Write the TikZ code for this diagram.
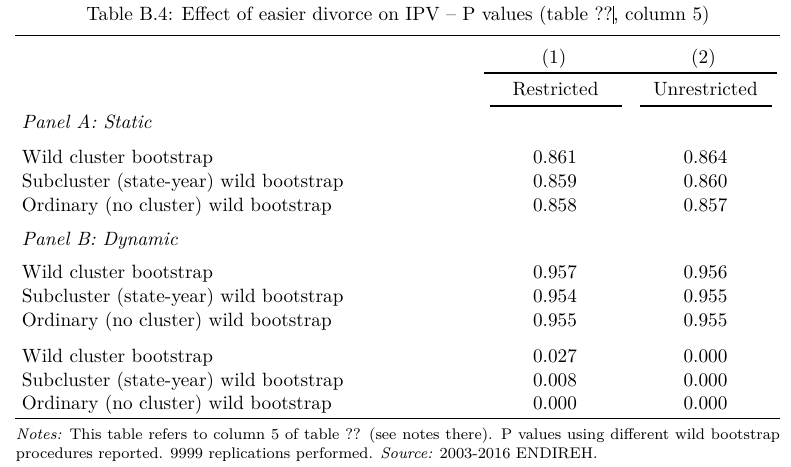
\documentclass[tikz,border=0pt]{standalone}
\begin{document}
\begin{tikzpicture}[x=0.52pt,y=-0.52pt,
  txt/.style={inner sep=0pt,outer sep=0pt,font=\fontsize{10}{12}\selectfont},
  lbl/.style={txt,anchor=base west},
  num/.style={txt,anchor=base},
  heavy/.style={line width=0.8pt},
  light/.style={line width=0.55pt}]
\useasboundingbox (0,0) rectangle (791,467);
% title
\node[num] (title) at (398,20.7) {Table B.4: Effect of easier divorce on IPV -- P values (table ??\rule[-1.7pt]{0.35pt}{9.3pt}, column 5)};
% rules
\coordinate (t1) at (15,35.5); \coordinate (t2) at (780,35.5);
\draw[heavy] (t1) -- (t2);
\node[num] (h1) at (554,63.3) {(1)};
\node[num] (h2) at (703.5,63.3) {(2)};
\coordinate (m1) at (484,73); \coordinate (m2) at (777,73);
\draw[light] (m1) -- (m2);
\node[num] (r1) at (555.5,96) {Restricted};
\node[num] (r2) at (705.5,96) {Unrestricted};
\coordinate (n1) at (490,106); \coordinate (n2) at (622,106);
\coordinate (n3) at (640,106); \coordinate (n4) at (772,106);
\draw[light] (n1) -- (n2);
\draw[light] (n3) -- (n4);
% Panel A
\node[lbl] (pa) at (22,128.3) {\itshape Panel A: Static};
\node[lbl] (a1) at (22,163.3) {Wild cluster bootstrap};
\node[lbl] (a2) at (22,187.3) {Subcluster (state-year) wild bootstrap};
\node[lbl] (a3) at (22,211.7) {Ordinary (no cluster) wild bootstrap};
\node[num] (a1c1) at (555,163.3) {0.861}; \node[num] (a1c2) at (705.5,163.3) {0.864};
\node[num] (a2c1) at (555,187.3) {0.859}; \node[num] (a2c2) at (705.5,187.3) {0.860};
\node[num] (a3c1) at (555,211.7) {0.858}; \node[num] (a3c2) at (705.5,211.7) {0.857};
% Panel B
\node[lbl] (pb) at (22,245.7) {\itshape Panel B: Dynamic};
\node[lbl] (b1) at (22,278.3) {Wild cluster bootstrap};
\node[lbl] (b2) at (22,302.3) {Subcluster (state-year) wild bootstrap};
\node[lbl] (b3) at (22,326.7) {Ordinary (no cluster) wild bootstrap};
\node[num] (b1c1) at (555,278.3) {0.957}; \node[num] (b1c2) at (705.5,278.3) {0.956};
\node[num] (b2c1) at (555,302.3) {0.954}; \node[num] (b2c2) at (705.5,302.3) {0.955};
\node[num] (b3c1) at (555,326.7) {0.955}; \node[num] (b3c2) at (705.5,326.7) {0.955};
% third block
\node[lbl] (d1) at (22,362.3) {Wild cluster bootstrap};
\node[lbl] (d2) at (22,386.7) {Subcluster (state-year) wild bootstrap};
\node[lbl] (d3) at (22,410) {Ordinary (no cluster) wild bootstrap};
\node[num] (d1c1) at (555,362.3) {0.027}; \node[num] (d1c2) at (705.5,362.3) {0.000};
\node[num] (d2c1) at (555,386.7) {0.008}; \node[num] (d2c2) at (705.5,386.7) {0.000};
\node[num] (d3c1) at (555,410) {0.000}; \node[num] (d3c2) at (705.5,410) {0.000};
% bottom rule
\coordinate (b1l) at (15,418.3); \coordinate (b1r) at (780,418.3);
\draw[heavy] (b1l) -- (b1r);
% notes
\node[lbl,font=\footnotesize] (notes1) at (16,440) {\makebox[397.3pt][s]{\textit{Notes:} This table refers to column 5 of table ?? (see notes there). P values using different wild bootstrap}};
\node[lbl,font=\footnotesize] (notes2) at (16,458.3) {procedures reported. 9999 replications performed. \textit{Source:} 2003-2016 ENDIREH.};
\end{tikzpicture}
\end{document}
